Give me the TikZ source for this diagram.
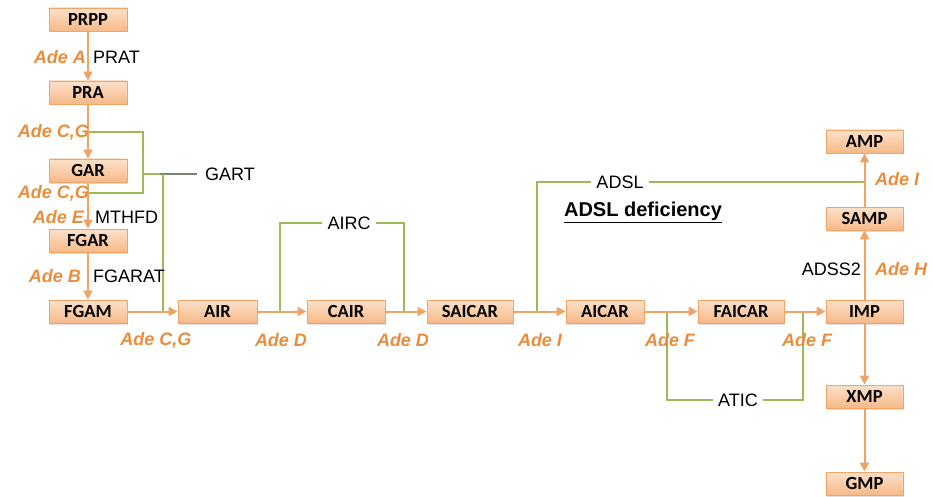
\documentclass[tikz,border=0pt]{standalone}
\usepackage{fontspec}
\setmainfont{Liberation Sans}
\newfontfamily\boxfont{Carlito}
\usetikzlibrary{arrows.meta,shadows}
\definecolor{boxtop}{HTML}{FCE1CA}
\definecolor{boxbot}{HTML}{F7B988}
\definecolor{boxline}{HTML}{F0A465}
\definecolor{arr}{HTML}{EFA466}
\definecolor{adeor}{HTML}{E98D3C}
\definecolor{grn}{HTML}{9BBB59}
\definecolor{gartgray}{HTML}{7A8570}
\tikzset{
  mbox/.style={draw=boxline, line width=0.8pt, top color=boxtop, bottom color=boxbot,
    minimum width=78pt, minimum height=23pt, inner sep=0pt,
    font=\boxfont\bfseries\fontsize{18.5}{20}\selectfont, text=black,
    drop shadow={opacity=0.25, shadow xshift=1.2pt, shadow yshift=-1.5pt}},
  wbox/.style={mbox, minimum width=86pt},
  flow/.style={draw=arr, line width=2pt, -{Triangle[length=9pt,width=9pt]}},
  gline/.style={draw=grn, line width=1.8pt},
  ade/.style={inner sep=0pt, text=adeor, font=\bfseries\itshape\fontsize{18}{20}\selectfont},
  enz/.style={inner sep=0pt, text=black, font=\fontsize{18}{20}\selectfont},
  enzg/.style={enz, inner sep=5pt, fill=white}
}
\begin{document}
\begin{tikzpicture}[x=1pt,y=-1pt]
\useasboundingbox (0,0) rectangle (933,497);
% boxes
\node[mbox] (prpp) at (88,19.5) {PRPP};
\node[mbox] (pra) at (88,92.5) {PRA};
\node[mbox] (gar) at (88,170.5) {GAR};
\node[mbox] (fgar) at (88,240.5) {FGAR};
\node[mbox] (fgam) at (88,311.5) {FGAM};
\node[mbox, minimum width=79pt] (air) at (217.5,311.5) {AIR};
\node[mbox] (cair) at (346,311.5) {CAIR};
\node[wbox] (saicar) at (470,311.5) {SAICAR};
\node[mbox] (aicar) at (605,311.5) {AICAR};
\node[wbox] (faicar) at (741,311.5) {FAICAR};
\node[mbox, minimum width=77pt] (imp) at (864.5,311.5) {IMP};
\node[mbox, minimum width=77pt] (amp) at (864.5,141.5) {AMP};
\node[mbox, minimum width=77pt] (samp) at (864.5,218.5) {SAMP};
\node[mbox, minimum width=77pt] (xmp) at (864.5,396.5) {XMP};
\node[mbox, minimum width=77pt] (gmp) at (864.5,483.5) {GMP};
% coordinates for enzyme brackets
\coordinate (ga) at (88,132);
\coordinate (gb) at (143,132);
\coordinate (gc) at (143,193);
\coordinate (gd) at (88,193);
\coordinate (ge) at (143,174);
\coordinate (gf) at (160,174);
\coordinate (gg) at (163,174);
\coordinate (gh) at (163,311.5);
\coordinate (gi) at (197,174);
\coordinate (a1) at (280,311.5);
\coordinate (a2) at (280,223);
\coordinate (a3) at (404,223);
\coordinate (a4) at (404,311.5);
\coordinate (d1) at (537,311.5);
\coordinate (d2) at (537,182);
\coordinate (d3) at (864.5,182);
\coordinate (t1) at (667,311.5);
\coordinate (t2) at (667,400);
\coordinate (t3) at (803,400);
\coordinate (t4) at (803,311.5);
% enzyme labels on brackets
\node[enz, anchor=west] (gart) at (205,174) {GART};
\node[enzg] (airc) at (349,223) {AIRC};
\node[enzg] (adsl) at (620,182) {ADSL};
\node[enzg] (atic) at (738,400) {ATIC};
% green brackets
\draw[gline] (ga) -- (gb) -- (gc) -- (gd);
\draw[gline] (ge) -- (gf);
\draw[draw=gartgray, line width=1.8pt] (gf) -- (gi);
\draw[gline] (gg) -- (gh);
\draw[gline] (a1) -- (a2) -- (airc.west);
\draw[gline] (airc.east) -- (a3) -- (a4);
\draw[gline] (d1) -- (d2) -- (adsl.west);
\draw[gline] (adsl.east) -- (d3);
\draw[gline] (t1) -- (t2) -- (atic.west);
\draw[gline] (atic.east) -- (t3) -- (t4);
% flow arrows
\draw[flow] (prpp) -- (pra);
\draw[flow] (pra) -- (gar);
\draw[flow] (gar) -- (fgar);
\draw[flow] (fgar) -- (fgam);
\draw[flow] (fgam) -- (air);
\draw[flow] (air) -- (cair);
\draw[flow] (cair) -- (saicar);
\draw[flow] (saicar) -- (aicar);
\draw[flow] (aicar) -- (faicar);
\draw[flow] (faicar) -- (imp);
\draw[flow] (imp) -- (samp);
\draw[flow] (samp) -- (amp);
\draw[flow] (imp) -- (xmp);
\draw[flow] (xmp) -- (gmp);
% labels
\node[ade, anchor=east] (l1) at (86,57) {Ade A};
\node[enz, anchor=west] (e1) at (93,57) {PRAT};
\node[ade, anchor=east] (l2) at (89,132) {Ade C,G};
\node[ade, anchor=east] (l3) at (89,193) {Ade C,G};
\node[ade, anchor=east] (l4) at (84,217) {Ade E};
\node[enz, anchor=west] (e2) at (95,217) {MTHFD};
\node[ade, anchor=east] (l5) at (81,276) {Ade B};
\node[enz, anchor=west] (e3) at (93,276) {FGARAT};
\node[ade] (l6) at (156,340) {Ade C,G};
\node[ade] (l7) at (281,340) {Ade D};
\node[ade] (l8) at (403,340) {Ade D};
\node[ade] (l9) at (540,340) {Ade I};
\node[ade] (l10) at (670,340) {Ade F};
\node[ade] (l11) at (807,340) {Ade F};
\node[ade, anchor=west] (l12) at (875,179) {Ade I};
\node[ade, anchor=west] (l13) at (875,269) {Ade H};
\node[enz, anchor=east] (e4) at (861,269) {ADSS2};
\node[inner sep=0pt, font=\bfseries\fontsize{20}{22}\selectfont] (def) at (643,212) {\underline{ADSL deficiency}};
\end{tikzpicture}
\end{document}
